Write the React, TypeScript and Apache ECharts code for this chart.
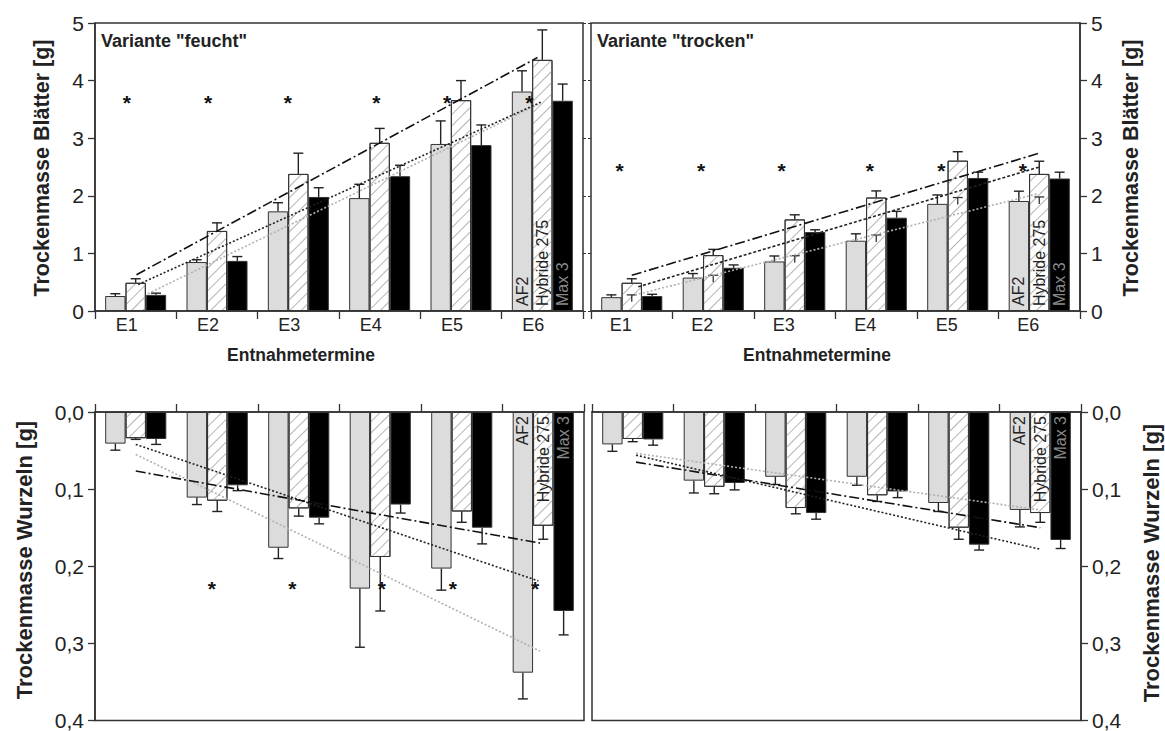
import React, { useEffect, useRef } from 'react';
import * as echarts from 'echarts';

// ---------- data ----------
const categories = ['E1', 'E2', 'E3', 'E4', 'E5', 'E6'];
const barNames = ['AF2', 'Hybride 275', 'Max 3'];

// Trockenmasse Blätter, Variante "feucht"
const leafWetAF2 = [0.26, 0.85, 1.73, 1.96, 2.9, 3.81];
const leafWetAF2Sd = [0.04, 0.04, 0.15, 0.24, 0.4, 0.36];
const leafWetHyb = [0.49, 1.39, 2.38, 2.92, 3.66, 4.36];
const leafWetHybSd = [0.07, 0.14, 0.36, 0.25, 0.34, 0.52];
const leafWetMax = [0.28, 0.87, 1.98, 2.34, 2.88, 3.65];
const leafWetMaxSd = [0.03, 0.075, 0.16, 0.19, 0.35, 0.29];

// Trockenmasse Blätter, Variante "trocken"
const leafDryAF2 = [0.24, 0.58, 0.86, 1.22, 1.86, 1.91];
const leafDryAF2Sd = [0.04, 0.07, 0.095, 0.12, 0.155, 0.17];
const leafDryHyb = [0.49, 0.97, 1.59, 1.97, 2.61, 2.38];
const leafDryHybSd = [0.07, 0.1, 0.08, 0.115, 0.155, 0.22];
const leafDryMax = [0.26, 0.75, 1.37, 1.62, 2.31, 2.3];
const leafDryMaxSd = [0.03, 0.05, 0.04, 0.11, 0.1, 0.11];
const leafDryHybInner = [0.28, 0.62, 0.96, 1.32, 1.97, 1.98];

// Trockenmasse Wurzeln, Variante "feucht"
const rootWetAF2 = [0.041, 0.111, 0.176, 0.229, 0.203, 0.338];
const rootWetAF2Sd = [0.0085, 0.009, 0.014, 0.076, 0.028, 0.034];
const rootWetHyb = [0.034, 0.115, 0.125, 0.188, 0.129, 0.1475];
const rootWetHybSd = [0.0015, 0.014, 0.01, 0.07, 0.014, 0.0175];
const rootWetMax = [0.035, 0.095, 0.137, 0.12, 0.15, 0.258];
const rootWetMaxSd = [0.007, 0.007, 0.008, 0.011, 0.021, 0.031];

// Trockenmasse Wurzeln, Variante "trocken"
const rootDryAF2 = [0.042, 0.089, 0.084, 0.084, 0.118, 0.127];
const rootDryAF2Sd = [0.009, 0.016, 0.01, 0.011, 0.011, 0.022];
const rootDryHyb = [0.035, 0.097, 0.1245, 0.108, 0.15, 0.131];
const rootDryHybSd = [0.0035, 0.009, 0.0075, 0.008, 0.015, 0.012];
const rootDryMax = [0.0356, 0.092, 0.131, 0.103, 0.172, 0.166];
const rootDryMaxSd = [0.0074, 0.009, 0.008, 0.008, 0.007, 0.011];

// trend lines: [category position, value] start and end
const trendLeafWetDashDot = [[0.01, 0.63], [4.94, 4.4]];
const trendLeafWetDotted = [[0.03, 0.46], [4.99, 3.63]];
const trendLeafWetGray = [[0.15, 0.3], [4.97, 3.6]];
const trendLeafDryDashDot = [[0, 0.62], [5, 2.74]];
const trendLeafDryDotted = [[0.08, 0.42], [5, 2.5]];
const trendLeafDryGray = [[0.04, 0.28], [4.97, 2.03]];
const trendRootWetDashDot = [[0, 0.0766], [4.96, 0.17]];
const trendRootWetDotted = [[0, 0.042], [4.94, 0.219]];
const trendRootWetGray = [[0, 0.055], [4.96, 0.31]];
const trendRootDryDashDot = [[0.04, 0.065], [5, 0.15]];
const trendRootDryDotted = [[0.04, 0.056], [5, 0.178]];
const trendRootDryGray = [[0.04, 0.0536], [5, 0.127]];

// significance asterisks: category position, value
const sigLeafWetX = [-0.11, 0.89, 1.87, 2.96, 3.83, 4.84];
const sigLeafWetY = 3.71;
const sigLeafDryX = [-0.15, 0.85, 1.84, 2.92, 3.8, 4.8];
const sigLeafDryY = 2.53;
const sigRootWetX = [0.935, 1.92, 3.02, 3.89, 4.9];
const sigRootWetY = 0.222;
const sigRootDryX: number[] = [];
const sigRootDryY = 0;

const leafTicks = { min: 0, max: 5, interval: 1 };
const rootTicks = { min: 0, max: 0.4, interval: 0.1 };

// ---------- styling ----------
const FONT = '"Liberation Sans", Arial, Helvetica, sans-serif';
const AX = '#333';
const fills = ['#dcdcdc', '#ffffff', '#000000'];
const labelColors = ['#222', '#222', '#8a8a8a'];
const trendStyles: Record<string, any> = {
  dashdot: { color: '#111', width: 1.6, type: [10, 3, 2, 3] },
  dotted: { color: '#222', width: 1.6, type: [2, 2] },
  dashed: { color: '#222', width: 1.6, type: [3, 2] },
  gray: { color: '#b0b0b0', width: 1.6, type: [2, 2] },
};

type Panel = {
  rect: { left: number; top: number; width: number; height: number };
  leaf: boolean;
  side: 'left' | 'right';
  bars: number[][];
  sds: number[][];
  trends: { data: number[][]; style: string }[];
  sigX: number[];
  sigY: number;
  labelShift: number;
  inner?: number[];
};

const panels: Panel[] = [
  {
    rect: { left: 95, top: 23, width: 488, height: 288 },
    leaf: true, side: 'left',
    bars: [leafWetAF2, leafWetHyb, leafWetMax],
    sds: [leafWetAF2Sd, leafWetHybSd, leafWetMaxSd],
    trends: [
      { data: trendLeafWetGray, style: 'gray' },
      { data: trendLeafWetDotted, style: 'dotted' },
      { data: trendLeafWetDashDot, style: 'dashdot' },
    ],
    sigX: sigLeafWetX, sigY: sigLeafWetY, labelShift: 18,
  },
  {
    rect: { left: 591, top: 23, width: 489, height: 288 },
    leaf: true, side: 'right',
    bars: [leafDryAF2, leafDryHyb, leafDryMax],
    sds: [leafDryAF2Sd, leafDryHybSd, leafDryMaxSd],
    trends: [
      { data: trendLeafDryGray, style: 'gray' },
      { data: trendLeafDryDotted, style: 'dashed' },
      { data: trendLeafDryDashDot, style: 'dashdot' },
    ],
    sigX: sigLeafDryX, sigY: sigLeafDryY, labelShift: 22,
    inner: leafDryHybInner,
  },
  {
    rect: { left: 95, top: 412, width: 489, height: 309 },
    leaf: false, side: 'left',
    bars: [rootWetAF2, rootWetHyb, rootWetMax],
    sds: [rootWetAF2Sd, rootWetHybSd, rootWetMaxSd],
    trends: [
      { data: trendRootWetGray, style: 'gray' },
      { data: trendRootWetDotted, style: 'dotted' },
      { data: trendRootWetDashDot, style: 'dashdot' },
    ],
    sigX: sigRootWetX, sigY: sigRootWetY, labelShift: 18,
  },
  {
    rect: { left: 592, top: 412, width: 489, height: 309 },
    leaf: false, side: 'right',
    bars: [rootDryAF2, rootDryHyb, rootDryMax],
    sds: [rootDryAF2Sd, rootDryHybSd, rootDryMaxSd],
    trends: [
      { data: trendRootDryGray, style: 'gray' },
      { data: trendRootDryDotted, style: 'dotted' },
      { data: trendRootDryDashDot, style: 'dashdot' },
    ],
    sigX: sigRootDryX, sigY: sigRootDryY, labelShift: 22,
  },
];

function buildOption() {
  const grid = panels.map((p) => ({
    ...p.rect,
    show: true,
    borderColor: AX,
    borderWidth: 1.5,
    backgroundColor: 'rgba(0,0,0,0)',
  }));

  const xAxis: any[] = [];
  const yAxis: any[] = [];
  const series: any[] = [];

  panels.forEach((p, g) => {
    xAxis.push({
      gridIndex: g,
      type: 'category',
      data: categories,
      position: p.leaf ? 'bottom' : 'top',
      axisLine: { show: true, onZero: false, lineStyle: { color: AX, width: 1.5 } },
      axisTick: { show: true, length: 8, lineStyle: { color: AX, width: 1.3 } },
      axisLabel: {
        show: p.leaf,
        fontFamily: FONT,
        fontSize: 18,
        color: '#222',
        margin: 5,
        padding: [0, p.labelShift, 0, 0],
      },
      splitLine: { show: false },
    });
    xAxis.push({ gridIndex: g, type: 'value', min: -0.5, max: 5.5, show: false, axisLine: { onZero: false } });

    const ticks = p.leaf ? leafTicks : rootTicks;
    yAxis.push({
      gridIndex: g,
      type: 'value',
      ...ticks,
      inverse: !p.leaf,
      position: p.side,
      axisLine: { show: true, onZero: false, lineStyle: { color: AX, width: 1.5 } },
      axisTick: { show: true, length: 7, lineStyle: { color: AX, width: 1.3 } },
      axisLabel: {
        fontFamily: FONT,
        fontSize: 21,
        color: '#222',
        margin: 11,
        formatter: (v: number) => (p.leaf ? String(Math.round(v)) : v.toFixed(1).replace('.', ',')),
      },
      splitLine: { show: false },
    });
    yAxis.push({
      gridIndex: g,
      type: 'value',
      ...ticks,
      inverse: !p.leaf,
      position: p.side === 'left' ? 'right' : 'left',
      show: p.leaf,
      axisLine: { show: false, onZero: false },
      axisTick: { show: true, length: 3, lineStyle: { color: AX, width: 1 } },
      axisLabel: { show: false },
      splitLine: { show: false },
    });

    const xi = 2 * g;
    const xv = 2 * g + 1;
    const yi = 2 * g;

    // bars
    p.bars.forEach((vals, s) => {
      const labelCfg = p.leaf
        ? { show: true, position: 'insideBottom', rotate: 90, align: 'left', verticalAlign: 'middle', distance: 5 }
        : { show: true, position: 'insideTop', rotate: 90, align: 'right', verticalAlign: 'middle', distance: 4 };
      series.push({
        type: 'bar',
        name: barNames[s],
        xAxisIndex: xi,
        yAxisIndex: yi,
        barWidth: '25%',
        barGap: '0%',
        itemStyle: {
          color: fills[s],
          borderColor: AX,
          borderWidth: 1,
          decal:
            s === 1
              ? {
                  symbol: 'rect',
                  symbolSize: 1,
                  color: '#b4b4b4',
                  dashArrayX: [1, 0],
                  dashArrayY: [1, 7],
                  rotation: -Math.PI / 4,
                }
              : undefined,
        },
        label: { show: false },
        data: vals.map((v, i) =>
          i === vals.length - 1
            ? {
                value: v,
                label: {
                  ...labelCfg,
                  formatter: barNames[s],
                  fontFamily: FONT,
                  fontSize: 16,
                  color: labelColors[s],
                },
              }
            : v
        ),
      });
    });

    // error bars
    p.bars.forEach((vals, s) => {
      const off = s - 1;
      series.push({
        type: 'custom',
        xAxisIndex: xi,
        yAxisIndex: yi,
        z: 3,
        data: vals.map((v, i) => [i, v, v + p.sds[s][i]]),
        renderItem: (params: any, api: any) => {
          const i = api.value(0);
          const m = api.value(1);
          const e = api.value(2);
          const bw = api.size([1, 0])[0] * 0.25;
          const p0 = api.coord([i, m]);
          const p1 = api.coord([i, e]);
          const x = p0[0] + off * bw;
          const st = { stroke: '#222', lineWidth: 1.4 };
          return {
            type: 'group',
            children: [
              { type: 'line', shape: { x1: x, y1: p0[1], x2: x, y2: p1[1] }, style: st },
              { type: 'line', shape: { x1: x - 5, y1: p1[1], x2: x + 5, y2: p1[1] }, style: st },
            ],
          };
        },
      });
    });

    // inner marks inside hatched bars
    if (p.inner) {
      series.push({
        type: 'custom',
        xAxisIndex: xi,
        yAxisIndex: yi,
        z: 3,
        data: p.inner.map((v, i) => [i, v]),
        renderItem: (params: any, api: any) => {
          const c = api.coord([api.value(0), api.value(1)]);
          const st = { stroke: '#333', lineWidth: 1.3 };
          return {
            type: 'group',
            children: [
              { type: 'line', shape: { x1: c[0] - 5, y1: c[1], x2: c[0] + 5, y2: c[1] }, style: st },
              { type: 'line', shape: { x1: c[0], y1: c[1], x2: c[0], y2: c[1] + 7 }, style: st },
            ],
          };
        },
      });
    }

    // trend lines
    p.trends.forEach((t) => {
      series.push({
        type: 'line',
        xAxisIndex: xv,
        yAxisIndex: yi,
        z: 4,
        symbol: 'none',
        silent: true,
        data: t.data,
        lineStyle: trendStyles[t.style],
      });
    });

    // asterisks
    if (p.sigX.length) {
      series.push({
        type: 'custom',
        xAxisIndex: xv,
        yAxisIndex: yi,
        z: 5,
        data: p.sigX.map((x) => [x, p.sigY]),
        renderItem: (params: any, api: any) => {
          const c = api.coord([api.value(0), api.value(1)]);
          return {
            type: 'text',
            x: c[0],
            y: c[1] + 5,
            style: {
              text: '*',
              fill: '#111',
              font: `bold 21px ${FONT}`,
              textAlign: 'center',
              textVerticalAlign: 'middle',
            },
          };
        },
      });
    }
  });

  const txt = (text: string, x: number, y: number, size: number, rot = 0, bold = true, align = 'center') => ({
    type: 'text',
    x,
    y,
    rotation: rot,
    silent: true,
    style: {
      text,
      fill: '#222',
      font: `${bold ? 'bold ' : ''}${size}px ${FONT}`,
      textAlign: align,
      textVerticalAlign: 'middle',
    },
  });

  const graphic = [
    txt('Variante "feucht"', 101, 41, 18, 0, true, 'left'),
    txt('Variante "trocken"', 597, 41, 18, 0, true, 'left'),
    txt('Entnahmetermine', 301, 355, 17.5),
    txt('Entnahmetermine', 817, 355, 17.5),
    txt('Trockenmasse Blätter [g]', 42, 168, 21.5, Math.PI / 2),
    txt('Trockenmasse Wurzeln [g]', 24, 560, 22, Math.PI / 2),
    txt('Trockenmasse Blätter [g]', 1131, 168, 21.5, Math.PI / 2),
    txt('Trockenmasse Wurzeln [g]', 1151, 563, 22, Math.PI / 2),
  ];

  return {
    animation: false,
    backgroundColor: '#ffffff',
    textStyle: { fontFamily: FONT },
    grid,
    xAxis,
    yAxis,
    series,
    graphic,
  };
}

export default function App() {
  const ref = useRef<HTMLDivElement>(null);
  useEffect(() => {
    if (!ref.current) return;
    const chart = echarts.init(ref.current, null, { renderer: 'svg' });
    chart.setOption(buildOption() as any);
    return () => chart.dispose();
  }, []);
  return (
    <div
      ref={ref}
      style={{ position: 'fixed', left: 0, top: 0, width: 1165, height: 731, background: '#fff' }}
    />
  );
}
